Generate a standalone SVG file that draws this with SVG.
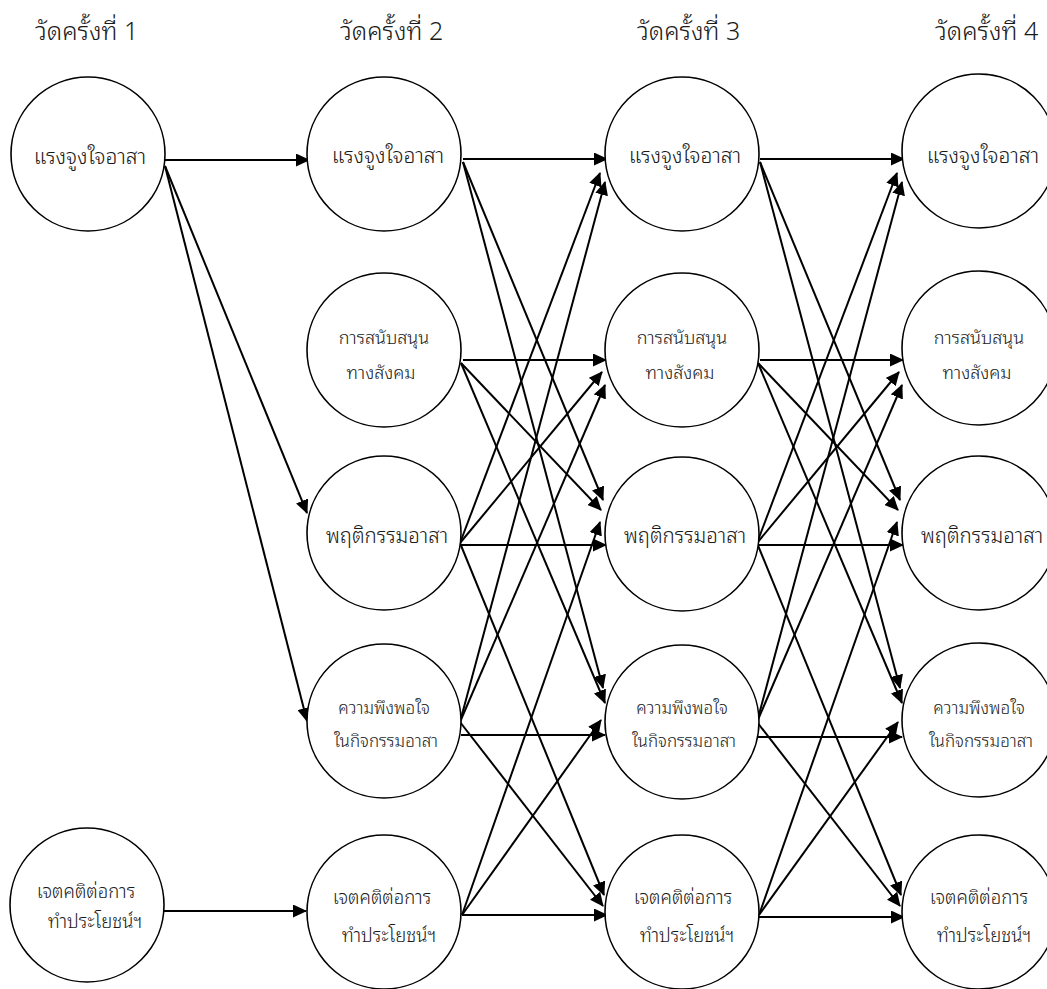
<svg xmlns="http://www.w3.org/2000/svg" width="1047" height="989" viewBox="0 0 1047 989">
<defs>
<style>
.n{fill:#fff;stroke:#000;stroke-width:1.6}
.t{font-family:"Noto Sans Thai Looped","Noto Sans Thai","Tahoma","DejaVu Sans",sans-serif;font-weight:300;fill:#1a1a1a;text-anchor:middle}
.big{font-size:21px}
.s3{font-size:20.5px}
.s2{font-size:18px}
.s4{font-size:17px}
.s5{font-size:18.5px}
.h{font-family:"Noto Sans Thai Looped","Noto Sans Thai","Tahoma","DejaVu Sans",sans-serif;font-weight:300;font-size:25px;fill:#1a1a1a}
.e{stroke:#000;stroke-width:2;fill:none;marker-end:url(#a)}
</style>
<marker id="a" markerUnits="userSpaceOnUse" markerWidth="15" markerHeight="13" refX="13" refY="6.5" orient="auto">
<path d="M0,0 L14,6.5 L0,13 z" fill="#000"/>
</marker>
</defs>
<g id="headers">
<text class="h" x="35" y="40">วัดครั้งที่ 1</text>
<text class="h" x="340" y="40">วัดครั้งที่ 2</text>
<text class="h" x="637" y="40">วัดครั้งที่ 3</text>
<text class="h" x="935" y="40">วัดครั้งที่ 4</text>
</g>
<g id="connectors">
<line class="e" x1="165" y1="160" x2="309" y2="160"/>
<line class="e" x1="165" y1="166" x2="307" y2="513"/>
<line class="e" x1="165" y1="166" x2="307" y2="721"/>
<line class="e" x1="163" y1="911" x2="306" y2="911"/>
<g id="t23">
<line class="e" x1="463" y1="159" x2="607" y2="159"/>
<line class="e" x1="463" y1="360" x2="606" y2="360"/>
<line class="e" x1="461" y1="545" x2="606" y2="545"/>
<line class="e" x1="461" y1="735" x2="605" y2="735"/>
<line class="e" x1="462" y1="915" x2="607" y2="915"/>
<line class="e" x1="463" y1="162" x2="603" y2="500"/>
<line class="e" x1="463" y1="162" x2="603" y2="688"/>
<line class="e" x1="461" y1="363" x2="601" y2="510"/>
<line class="e" x1="461" y1="363" x2="605" y2="703"/>
<line class="e" x1="460" y1="543" x2="600" y2="173"/>
<line class="e" x1="460" y1="543" x2="602" y2="372"/>
<line class="e" x1="460" y1="543" x2="604" y2="895"/>
<line class="e" x1="460" y1="722" x2="605" y2="182"/>
<line class="e" x1="460" y1="722" x2="605" y2="385"/>
<line class="e" x1="460" y1="722" x2="603" y2="906"/>
<line class="e" x1="462" y1="915" x2="600" y2="522"/>
<line class="e" x1="462" y1="915" x2="601" y2="720"/>
</g>
<g id="t34">
<line class="e" x1="760" y1="159" x2="904" y2="159"/>
<line class="e" x1="760" y1="360" x2="903" y2="360"/>
<line class="e" x1="758" y1="545" x2="903" y2="545"/>
<line class="e" x1="758" y1="737" x2="902" y2="737"/>
<line class="e" x1="759" y1="917" x2="904" y2="917"/>
<line class="e" x1="760" y1="162" x2="900" y2="500"/>
<line class="e" x1="760" y1="162" x2="900" y2="688"/>
<line class="e" x1="758" y1="363" x2="898" y2="510"/>
<line class="e" x1="758" y1="363" x2="902" y2="703"/>
<line class="e" x1="757" y1="543" x2="897" y2="173"/>
<line class="e" x1="757" y1="543" x2="899" y2="372"/>
<line class="e" x1="757" y1="543" x2="901" y2="895"/>
<line class="e" x1="757" y1="722" x2="902" y2="182"/>
<line class="e" x1="757" y1="722" x2="902" y2="385"/>
<line class="e" x1="757" y1="722" x2="900" y2="906"/>
<line class="e" x1="759" y1="915" x2="897" y2="522"/>
<line class="e" x1="759" y1="915" x2="898" y2="722"/>
</g>
</g>
<g id="n1_1"><circle class="n" cx="88" cy="154" r="77"/><text class="t big" x="90" y="164">แรงจูงใจอาสา</text></g>
<g id="n1_5"><circle class="n" cx="87" cy="905" r="77"/><text class="t s5" x="86" y="898">เจตคติต่อการ</text><text class="t s5" x="95" y="928">ทำประโยชน์ฯ</text></g>
<g id="n2_1"><circle class="n" cx="384" cy="154" r="77"/><text class="t big" x="388" y="163">แรงจูงใจอาสา</text></g>
<g id="n2_2"><circle class="n" cx="384" cy="350" r="77"/><text class="t s2" x="384" y="344">การสนับสนุน</text><text class="t s2" x="381" y="379">ทางสังคม</text></g>
<g id="n2_3"><circle class="n" cx="384" cy="533" r="77"/><text class="t s3" x="387" y="543">พฤติกรรมอาสา</text></g>
<g id="n2_4"><circle class="n" cx="384" cy="721" r="77"/><text class="t s4" x="384" y="714">ความพึงพอใจ</text><text class="t s4" x="386" y="747">ในกิจกรรมอาสา</text></g>
<g id="n2_5"><circle class="n" cx="384" cy="912" r="77"/><text class="t s5" x="382" y="904">เจตคติต่อการ</text><text class="t s5" x="389" y="942">ทำประโยชน์ฯ</text></g>
<g id="n3_1"><circle class="n" cx="682" cy="154" r="77"/><text class="t big" x="685" y="163">แรงจูงใจอาสา</text></g>
<g id="n3_2"><circle class="n" cx="682" cy="350" r="77"/><text class="t s2" x="682" y="344">การสนับสนุน</text><text class="t s2" x="680" y="379">ทางสังคม</text></g>
<g id="n3_3"><circle class="n" cx="682" cy="534" r="77"/><text class="t s3" x="685" y="543">พฤติกรรมอาสา</text></g>
<g id="n3_4"><circle class="n" cx="682" cy="722" r="77"/><text class="t s4" x="682" y="714">ความพึงพอใจ</text><text class="t s4" x="684" y="747">ในกิจกรรมอาสา</text></g>
<g id="n3_5"><circle class="n" cx="682" cy="912" r="77"/><text class="t s5" x="683" y="904">เจตคติต่อการ</text><text class="t s5" x="687" y="942">ทำประโยชน์ฯ</text></g>
<g id="n4_1"><circle class="n" cx="979" cy="151" r="77"/><text class="t big" x="983" y="163">แรงจูงใจอาสา</text></g>
<g id="n4_2"><circle class="n" cx="979" cy="348" r="77"/><text class="t s2" x="979" y="344">การสนับสนุน</text><text class="t s2" x="977" y="379">ทางสังคม</text></g>
<g id="n4_3"><circle class="n" cx="979" cy="533" r="77"/><text class="t s3" x="982" y="543">พฤติกรรมอาสา</text></g>
<g id="n4_4"><circle class="n" cx="979" cy="720" r="77"/><text class="t s4" x="979" y="714">ความพึงพอใจ</text><text class="t s4" x="981" y="747">ในกิจกรรมอาสา</text></g>
<g id="n4_5"><circle class="n" cx="979" cy="912" r="77"/><text class="t s5" x="979" y="904">เจตคติต่อการ</text><text class="t s5" x="984" y="942">ทำประโยชน์ฯ</text></g>
</svg>
